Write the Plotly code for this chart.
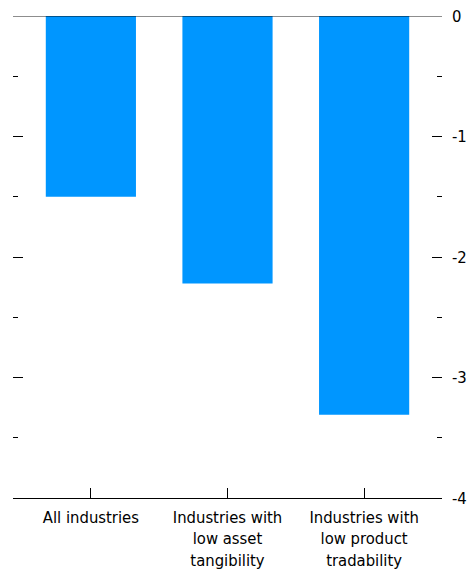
import plotly.graph_objects as go

categories = ["All industries", "Industries with<br>low asset<br>tangibility", "Industries with<br>low product<br>tradability"]
values = [-1.5, -2.22, -3.31]
y_tickvals = [0, -1, -2, -3, -4]
y_ticktext = ["0", "-1", "-2", "-3", "-4"]

FONT = "DejaVu Sans Condensed"

fig = go.Figure()
fig.add_trace(go.Bar(x=categories, y=values, marker=dict(color="#0096ff", line=dict(width=0)),
                     width=0.66, yaxis="y"))
# invisible trace for left tick axis
fig.add_trace(go.Scatter(x=[categories[0]], y=[0], yaxis="y2", mode="markers",
                         marker=dict(opacity=0), showlegend=False, hoverinfo="skip"))

fig.update_layout(
    width=471, height=574,
    margin=dict(l=13, r=29, t=16, b=76),
    plot_bgcolor="white", paper_bgcolor="white",
    showlegend=False,
    font=dict(family=FONT, size=16, color="black"),
    xaxis=dict(range=[-0.57, 2.57], showgrid=False, ticks="inside", ticklen=10, tickcolor="black",
               showline=True, linecolor="black", linewidth=1, zeroline=False, automargin=False,
               ticklabelstandoff=4,
               tickfont=dict(family=FONT, size=16.5)),
    yaxis=dict(range=[-4, 0], side="right", showgrid=False, zeroline=False, showline=False, automargin=False,
               tickvals=y_tickvals, ticktext=y_ticktext, ticks="inside", ticklen=10, tickcolor="black",
               ticklabeloverflow="allow", ticklabelstandoff=9,
               tickfont=dict(family=FONT, size=16.5),
               minor=dict(dtick=0.5, ticks="inside", ticklen=5, tickcolor="black")),
    yaxis2=dict(range=[-4, 0], side="left", overlaying="y", showgrid=False, zeroline=False, showline=False,
                automargin=False,
                tickvals=y_tickvals, ticks="inside", ticklen=10, tickcolor="black", showticklabels=False,
                minor=dict(dtick=0.5, ticks="inside", ticklen=5, tickcolor="black")),
)
fig.add_hline(y=0, line=dict(color="rgba(0,0,0,0.6)", width=1.5))

fig.write_html("out.html", config={"displayModeBar": False},
               post_script="document.body.style.margin='0';document.body.style.overflow='hidden';")
